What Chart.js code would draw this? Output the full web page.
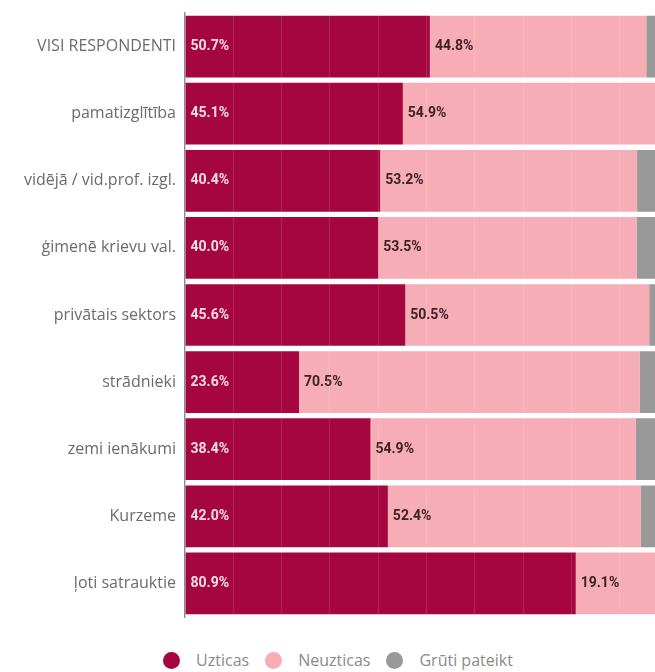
<!DOCTYPE html>
<html>
<head>
<meta charset="utf-8">
<script src="https://cdn.jsdelivr.net/npm/chart.js@4.4.1/dist/chart.umd.min.js"></script>
<style>
  html, body { margin: 0; padding: 0; background: #ffffff; overflow: hidden; }
  #wrap { position: relative; width: 680px; height: 672px; }
  #c { position: absolute; left: 0; top: 0; }
  #legend { position: absolute; left: 0; top: 650px; width: 676px; height: 20px; display: flex; justify-content: center; align-items: center;
            font-family: "Open Sans", Roboto, sans-serif; font-size: 16px; color: #8a8a8a; }
  .item { display: flex; align-items: center; margin: 0 8px; }
  .dot { width: 17px; height: 17px; border-radius: 50%; margin-right: 16px; }
</style>
</head>
<body>
<div id="wrap">
  <canvas id="c" width="680" height="621" style="display:block;width:680px;height:621px"></canvas>
  <div id="legend"></div>
</div>
<script>
const categories = ["VISI RESPONDENTI", "pamatizglītība", "vidējā / vid.prof. izgl.", "ģimenē krievu val.", "privātais sektors", "strādnieki", "zemi ienākumi", "Kurzeme", "ļoti satrauktie"];
const seriesNames = ["Uzticas", "Neuzticas", "Grūti pateikt"];
const uzticas = [50.7, 45.1, 40.4, 40.0, 45.6, 23.6, 38.4, 42.0, 80.9];
const neuzticas = [44.8, 54.9, 53.2, 53.5, 50.5, 70.5, 54.9, 52.4, 19.1];
const gruti = [4.5, 0.0, 6.4, 6.5, 3.9, 5.9, 6.7, 5.6, 0.0];
const colors = ["#a50640", "#f6adb5", "#999999"];
const labelColors = ["#fbdde4", "#3e2228", null];

const barLabels = {
  id: 'barLabels',
  afterDatasetsDraw(chart) {
    const ctx = chart.ctx;
    ctx.save();
    ctx.font = "bold 14px Roboto, sans-serif";
    ctx.textBaseline = "middle";
    ctx.textAlign = "left";
    chart.data.datasets.forEach((ds, di) => {
      if (!labelColors[di]) return;
      const meta = chart.getDatasetMeta(di);
      meta.data.forEach((el, i) => {
        const v = ds.data[i];
        if (!v) return;
        const left = Math.min(el.x, el.base);
        ctx.fillStyle = labelColors[di];
        ctx.fillText(v.toFixed(1) + "%", left + 5, el.y);
      });
    });
    ctx.restore();
  }
};

const chart = new Chart(document.getElementById('c'), {
  type: 'bar',
  data: {
    labels: categories,
    datasets: [
      { label: seriesNames[0], data: uzticas, backgroundColor: colors[0] },
      { label: seriesNames[1], data: neuzticas, backgroundColor: colors[1] },
      { label: seriesNames[2], data: gruti, backgroundColor: colors[2] }
    ]
  },
  options: {
    indexAxis: 'y',
    responsive: false,
    animation: false,
    layout: { padding: { top: 13, right: 12, left: 0, bottom: 4 } },
    datasets: { bar: { barPercentage: 0.92, categoryPercentage: 1.0, borderWidth: 0 } },
    plugins: { legend: { display: false }, tooltip: { enabled: false } },
    scales: {
      x: {
        stacked: true, min: 0, max: 100,
        ticks: { display: false, stepSize: 10 },
        grid: { display: true, color: 'rgba(255,255,255,0.12)', drawTicks: false, z: 1 },
        border: { display: false }
      },
      y: {
        stacked: true,
        afterFit(scale) { scale.width = 185; scale.paddingTop = 0; scale.paddingBottom = 0; },
        ticks: { color: '#6b6b6b', padding: 9, font: { family: 'Open Sans', size: 16 } },
        grid: { display: false, drawTicks: false },
        border: { display: true, color: '#8c8c8c', width: 1.5 }
      }
    }
  },
  plugins: [barLabels]
});

const leg = document.getElementById('legend');
seriesNames.forEach((n, i) => {
  const it = document.createElement('div'); it.className = 'item';
  const d = document.createElement('span'); d.className = 'dot'; d.style.background = colors[i];
  const t = document.createElement('span'); t.textContent = n;
  it.appendChild(d); it.appendChild(t); leg.appendChild(it);
});
</script>
</body>
</html>
